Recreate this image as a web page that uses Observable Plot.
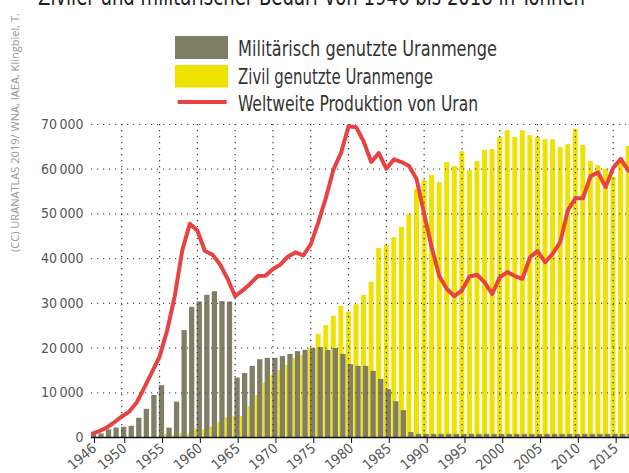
<!DOCTYPE html>
<html><head><meta charset="utf-8">
<script src="https://cdn.jsdelivr.net/npm/d3@7"></script>
<script src="https://cdn.jsdelivr.net/npm/@observablehq/plot@0.6"></script>
<style>
html,body{margin:0;padding:0;background:#fff;overflow:hidden;}
#chart{position:relative;width:629px;height:473px;overflow:hidden;}
</style></head><body><div id="chart"></div>
<script>
// ---- data (tonnes of uranium) ----
const firstYear = 1946;
const military = [
  900, 800, 1700, 2100, 2300, 2500, 4300, 6300, 9400, 11600,
  2100, 7900, 23900, 29100, 30300, 31800, 32600, 30400, 30300, 13300,
  14300, 15900, 17400, 17700, 17700, 18100, 18600, 19200, 19500, 19900,
  20100, 19500, 19900, 18600, 16300, 15900, 15900, 14800, 13000, 10700,
  8000, 6000, 1100, 700, 700, 700, 700, 700, 700, 700,
  700, 700, 700, 700, 700, 700, 700, 700, 700, 700,
  700, 700, 700, 700, 700, 700, 700, 700, 700, 700,
  700, 700
];
const civil = [
  0, 0, 0, 0, 0, 0, 0, 0, 0, 0,
  700, 500, 800, 700, 1900, 1700, 2300, 3400, 4400, 4700,
  4700, 6900, 9400, 12100, 13900, 15000, 16100, 17700, 18300, 20000,
  23000, 25000, 27100, 29300, 28000, 29700, 31800, 34700, 42300, 42900,
  44700, 47000, 49900, 55500, 57500, 58600, 57000, 61500, 60600, 63900,
  59700, 61700, 64200, 64400, 67100, 68600, 67100, 68600, 67500, 67100,
  66600, 66600, 64800, 65500, 68900, 65300, 61700, 60800, 60000, 58200,
  62400, 65100
];
const production = [
  800, 1400, 2200, 3400, 4700, 5800, 7900, 11200, 14600, 18100,
  23900, 31500, 41800, 47800, 46300, 41700, 40900, 38700, 35500, 31600,
  32900, 34400, 36100, 36200, 37700, 38700, 40500, 41400, 40700, 43200,
  48100, 53600, 59900, 63600, 69600, 69400, 66200, 61600, 63600, 60100,
  62200, 61600, 60700, 57800, 50000, 42500, 36100, 33200, 31600, 32900,
  36000, 36400, 34700, 32100, 35800, 37000, 36100, 35500, 40300, 41700,
  39200, 41100, 43700, 50800, 53500, 53500, 58400, 59300, 56000, 60300,
  62300, 59700
];
const years = military.map((_, i) => firstYear + i);
const xTickLabels = [1946, 1950, 1955, 1960, 1965, 1970, 1975, 1980, 1985, 1990, 1995, 2000, 2005, 2010, 2015];
const xGridTicks = [1950, 1955, 1960, 1965, 1970, 1975, 1980, 1985, 1990, 1995, 2000, 2005, 2010, 2015];
const yTickValues = [0, 10000, 20000, 30000, 40000, 50000, 60000, 70000];
const legendLabels = ["Militärisch genutzte Uranmenge", "Zivil genutzte Uranmenge", "Weltweite Produktion von Uran"];
const titleText = "Ziviler und militärischer Bedarf von 1946 bis 2018 in Tonnen";
const creditText = "(CC) URANATLAS 2019/ WNA, IAEA, Klingbiel, T.";

// ---- style ----
const FONT = "'Liberation Sans Narrow', 'DejaVu Sans Condensed', 'Open Sans', sans-serif";
const GRAY = "#807e67";
const YELLOW = "#efe200";
const RED = "#e84242";

const rows = years.map((year, i) => ({year, military: military[i], civil: civil[i], production: production[i]}));
const fmtY = d => d3.format(",")(d).replace(/,/g, "\u2009");

const plot = Plot.plot({
  width: 629, height: 473,
  marginLeft: 91, marginRight: 0, marginTop: 124, marginBottom: 36,
  x: {type: "linear", domain: [1946, 2017.16]},
  y: {domain: [0, 70000]},
  style: {fontFamily: FONT, fontSize: "14px", color: "#555", background: "transparent", overflow: "hidden"},
  marks: [
    Plot.rect(rows, {x1: d => d.year - 0.28, x2: d => d.year + 0.38, y1: 0, y2: "civil", fill: YELLOW, clip: true}),
    Plot.rect(rows, {x1: d => d.year - 0.03, x2: d => d.year + 0.67, y1: 0, y2: "military", fill: GRAY, clip: true}),
    Plot.gridY({ticks: yTickValues.filter(v => v > 0), stroke: "#555", strokeOpacity: 1, strokeWidth: 1.2, strokeDasharray: "1.2,4.8"}),
    Plot.gridX({ticks: xGridTicks, stroke: "#333", strokeOpacity: 1, strokeWidth: 1.2, strokeDasharray: "1.2,4.8"}),
    Plot.axisY({ticks: yTickValues, tickSize: 0, tickPadding: 8, tickFormat: fmtY, label: null, fontSize: 14, fill: "#555"}),
    Plot.axisX({ticks: xTickLabels, tickSize: 6, tickFormat: d => String(d), tickRotate: -40, label: null, fontSize: 14, stroke: "#111", fill: "#555", tickPadding: 3, dx: 3}),
    Plot.ruleY([0], {stroke: "#111", strokeWidth: 1.6}),
    Plot.line(rows, {x: "year", y: "production", stroke: RED, strokeWidth: 4, clip: true, strokeLinejoin: "round"})
  ]
});

const svg = d3.select(plot);
svg.append("text").attr("x", 38).attr("y", 5).attr("font-size", 24).attr("fill", "#222").attr("text-anchor", "start")
  .attr("textLength", 547).attr("lengthAdjust", "spacingAndGlyphs").text(titleText);
svg.append("text").attr("transform", "translate(19,252) rotate(-90)").attr("font-size", 10.5).attr("fill", "#999")
  .attr("text-anchor", "start").attr("font-family", "'Open Sans', 'Noto Sans', sans-serif")
  .attr("textLength", 239).attr("lengthAdjust", "spacingAndGlyphs").text(creditText);
const legend = svg.append("g").attr("text-anchor", "start");
legend.append("rect").attr("x", 175).attr("y", 36).attr("width", 53).attr("height", 23).attr("fill", GRAY);
legend.append("rect").attr("x", 175).attr("y", 65).attr("width", 53).attr("height", 22.5).attr("fill", YELLOW);
legend.append("line").attr("x1", 177.7).attr("x2", 226.7).attr("y1", 102).attr("y2", 102).attr("stroke", RED).attr("stroke-width", 4);
const legendY = [55.5, 84, 110.5];
const legendW = [259, 195, 240];
legendLabels.forEach((t, i) => {
  legend.append("text").attr("x", 238).attr("y", legendY[i]).attr("font-size", 21).attr("fill", "#333")
    .attr("textLength", legendW[i]).attr("lengthAdjust", "spacingAndGlyphs").text(t);
});
document.getElementById("chart").appendChild(plot);
</script>
</body></html>
